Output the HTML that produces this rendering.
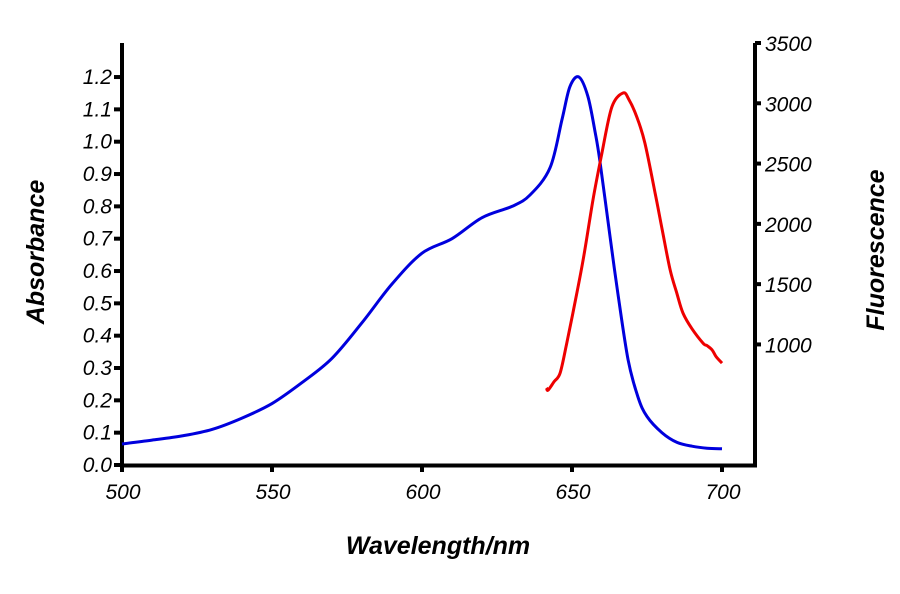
<!DOCTYPE html>
<html><head><meta charset="utf-8"><style>
html,body{margin:0;padding:0;background:#fff;}
svg{display:block;font-family:"Liberation Sans",Arial,sans-serif;}
</style></head><body>
<svg id="chart" width="900" height="594" viewBox="0 0 900 594">
<g id="axes"></g>
<g id="series"></g>
<text x="44" y="252" transform="rotate(-90 44 252)" text-anchor="middle" font-size="25" font-weight="bold" font-style="italic">Absorbance</text>
<text x="884" y="250" transform="rotate(-90 884 250)" text-anchor="middle" font-size="25" font-weight="bold" font-style="italic">Fluorescence</text>
<text x="438" y="554" text-anchor="middle" font-size="25" font-weight="bold" font-style="italic">Wavelength/nm</text>
</svg>
<script>
const xTicks=[500,550,600,650,700];
const yLeftTicks=[0,0.1,0.2,0.3,0.4,0.5,0.6,0.7,0.8,0.9,1.0,1.1,1.2];
const yRightTicks=[1000,1500,2000,2500,3000,3500];
const absWl=[500,510,520,530,540,550,560,570,580,590,600,610,620,630,636,642.7,646.7,649.3,652.3,655.3,657.7,659.3,662.7,665.3,668.7,672,675,680,685,690,695,700];
const absVal=[0.065,0.077,0.09,0.11,0.145,0.19,0.255,0.33,0.44,0.56,0.655,0.70,0.765,0.80,0.835,0.92,1.07,1.17,1.20,1.14,1.03,0.94,0.705,0.53,0.325,0.21,0.15,0.10,0.07,0.058,0.052,0.05];
const fluWl=[641.5,642,644,646,648,650.3,653.7,657,660,663.3,667,669,671.7,674.3,677.7,680,682.7,685,687,690,693.7,695,696.7,698,700];
const fluVal=[640,620,690,760,980,1260,1700,2200,2590,2970,3085,3030,2880,2670,2255,1960,1620,1420,1260,1130,1010,990,955,900,845];
const NS="http://www.w3.org/2000/svg";
const X=v=>122+(v-500)*3;
const YL=v=>465-v*323.3;
const YR=v=>465-v*(422/3500);
function el(tag,attrs,parent,txt){const e=document.createElementNS(NS,tag);for(const k in attrs)e.setAttribute(k,attrs[k]);if(txt!==undefined)e.textContent=txt;parent.appendChild(e);return e;}
const axes=document.getElementById('axes');
let a=el('line',{x1:122,y1:43,x2:122,y2:467,stroke:'#000','stroke-width':4},axes);


a=el('line',{x1:120,y1:465.5,x2:757,y2:465.5,stroke:'#000','stroke-width':4},axes);


a=el('line',{x1:755,y1:43,x2:755,y2:467,stroke:'#000','stroke-width':4},axes);


xTicks.forEach(v=>{
 const t=el('line',{x1:X(v),y1:465,x2:X(v),y2:472,stroke:'#000','stroke-width':4},axes);
 
 
 const l=el('text',{x:X(v)+1,y:499,'text-anchor':'middle','font-size':21,'font-style':'italic'},axes,String(v));
 
 
});
yLeftTicks.forEach(v=>{
 const t=el('line',{x1:114,y1:YL(v),x2:122,y2:YL(v),stroke:'#000','stroke-width':4},axes);
 
 
 const l=el('text',{x:112,y:YL(v)+7,'text-anchor':'end','font-size':21,'font-style':'italic'},axes,v.toFixed(1));
 
 
});
yRightTicks.forEach(v=>{
 const t=el('line',{x1:755,y1:YR(v),x2:761,y2:YR(v),stroke:'#000','stroke-width':4},axes);
 
 
 const l=el('text',{x:765,y:YR(v)+8,'text-anchor':'start','font-size':21,'font-style':'italic'},axes,String(v));
 
 
});
const series=document.getElementById('series');
function path(xs,ys,fy){
 const p=xs.map((w,i)=>[X(w),fy(ys[i])]);
 let d='M'+p[0][0].toFixed(1)+','+p[0][1].toFixed(1);
 for(let i=0;i<p.length-1;i++){
  const p0=p[Math.max(0,i-1)],p1=p[i],p2=p[i+1],p3=p[Math.min(p.length-1,i+2)];
  const c1=[p1[0]+(p2[0]-p0[0])/6,p1[1]+(p2[1]-p0[1])/6];
  const c2=[p2[0]-(p3[0]-p1[0])/6,p2[1]-(p3[1]-p1[1])/6];
  d+='C'+c1[0].toFixed(1)+','+c1[1].toFixed(1)+' '+c2[0].toFixed(1)+','+c2[1].toFixed(1)+' '+p2[0].toFixed(1)+','+p2[1].toFixed(1);
 }
 return d;
}
const pa=el('path',{d:path(absWl,absVal,YL),fill:'none',stroke:'#0000dd','stroke-width':3,'stroke-linejoin':'round'},series);


const pf=el('path',{d:path(fluWl,fluVal,YR),fill:'none',stroke:'#ee0000','stroke-width':3,'stroke-linejoin':'round'},series);


</script>
</body></html>
